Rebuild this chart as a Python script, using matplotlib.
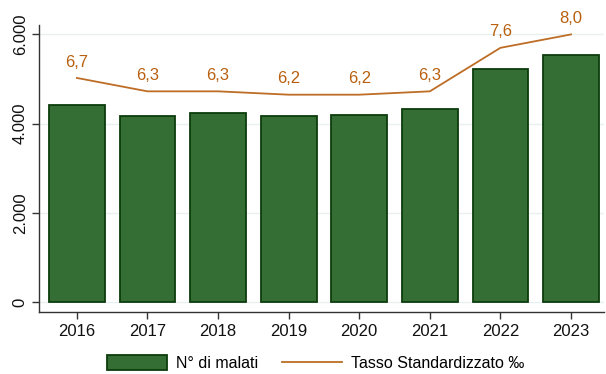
import matplotlib.pyplot as plt
from matplotlib.ticker import FuncFormatter

plt.rcParams['font.family'] = ['Liberation Sans', 'DejaVu Sans']

anni = ['2016', '2017', '2018', '2019', '2020', '2021', '2022', '2023']
malati = [4410, 4165, 4230, 4180, 4205, 4320, 5235, 5530]
tasso = [6.7, 6.3, 6.3, 6.2, 6.2, 6.3, 7.6, 8.0]
tasso_lbl = ['6,7', '6,3', '6,3', '6,2', '6,2', '6,3', '7,6', '8,0']

bar_col = '#356e35'
edge_col = '#0c3d0c'
line_col = '#bd6d25'
text_col = '#b8600f'

fig = plt.figure(figsize=(6.06, 3.74), dpi=100)
ax = fig.add_axes([0.064, 0.166, 0.933, 0.767])

x = range(len(anni))
ax.bar(x, malati, width=0.79, color=bar_col, edgecolor=edge_col, linewidth=1.3,
       label='N° di malati', zorder=3)

ax.set_ylim(-217, 6210)
ax.set_xlim(-0.54, len(anni) - 0.53)
ax.set_yticks([0, 2000, 4000, 6000])
ax.yaxis.set_major_formatter(FuncFormatter(lambda v, p: f'{int(v):,}'.replace(',', '.')))
ax.set_xticks(list(x))
ax.set_xticklabels(anni)
for lab in ax.get_yticklabels():
    lab.set_rotation(90)
    lab.set_va('center')
ax.tick_params(axis='both', labelsize=12, length=5, width=1, color='#333333', labelcolor='#111111')
ax.tick_params(axis='y', pad=3)
ax.tick_params(axis='x', pad=4)
ax.grid(axis='y', color='#e8f0f1', linewidth=1, zorder=0)
ax.set_axisbelow(True)
for s in ['top', 'right']:
    ax.spines[s].set_visible(False)
for s in ['left', 'bottom']:
    ax.spines[s].set_color('#333333')
    ax.spines[s].set_linewidth(1)

# tasso standardizzato sul secondo asse (nascosto)
ax2 = ax.twinx()
ax2.set_ylim(-217 / 750, 6210 / 750)
ax2.plot(list(x), tasso, color=line_col, linewidth=1.3, label='Tasso Standardizzato ‰', zorder=4)
for xi, t, s in zip(x, tasso, tasso_lbl):
    ax2.annotate(s, (xi, t), xytext=(0, 6), textcoords='offset points', ha='center', va='bottom',
                 color=text_col, fontsize=12, annotation_clip=False)
ax2.axis('off')

h1, l1 = ax.get_legend_handles_labels()
h2, l2 = ax2.get_legend_handles_labels()
fig.legend(h1 + h2, l1 + l2, loc='center', bbox_to_anchor=(0.521, 0.029), ncol=2, frameon=False,
           fontsize=11.5, handlelength=3.75, handleheight=1.1, columnspacing=1.55, handletextpad=0.55)

fig.savefig('out.png', dpi=100)
